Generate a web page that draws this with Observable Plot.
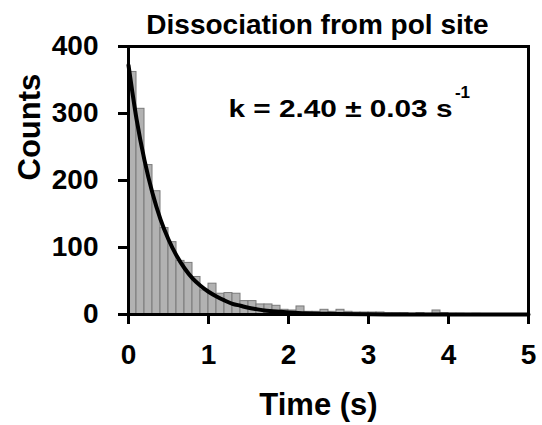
<!DOCTYPE html>
<html>
<head>
<meta charset="utf-8">
<script src="https://cdn.jsdelivr.net/npm/d3@7"></script>
<script src="https://cdn.jsdelivr.net/npm/@observablehq/plot@0.6"></script>
<style>
  html, body { margin: 0; padding: 0; background: white; }
  #chart svg { display: block; }
</style>
</head>
<body>
<div id="chart"></div>
<script>
// Histogram: 50 bins of 0.1 s from 0 to 5 s
const binWidth = 0.1;
const counts = [
  362, 307, 223, 184, 129, 108, 80, 77, 56, 36,
  46, 31, 32, 31, 20, 20, 15, 15, 13, 7,
  6, 12, 4, 4, 7, 4, 7, 4, 3, 3,
  3, 3, 2, 2, 2, 1, 2, 1, 6, 2,
  1, 1, 0, 1, 0, 0, 0, 0, 0, 0
];
// Fitted single-exponential curve
const fitTime  = [0, 0.1, 0.2, 0.3, 0.4, 0.5, 0.6, 0.7, 0.8, 0.9, 1.0, 1.1, 1.2, 1.3, 1.4, 1.5, 1.6, 1.7, 1.8, 1.9, 2.0, 2.5, 3.0, 3.5, 4.0, 4.5, 5.0];
const fitCount = [372, 292, 230, 181, 142, 112, 88, 69, 54, 43, 34, 27, 21, 16, 13, 10, 8, 6, 5, 4, 3, 1, 0.3, 0.1, 0, 0, 0];
const xTicks = [0, 1, 2, 3, 4, 5];
const yTicks = [0, 100, 200, 300, 400];
const titleText = "Dissociation from pol site";
const xLabel = "Time (s)";
const yLabel = "Counts";
const annotMain = "k = 2.40 ± 0.03 s";
const annotSup = "-1";

const bins = counts.map((c, i) => ({x1: i * binWidth, x2: (i + 1) * binWidth, count: c}));
const fit = fitTime.map((t, i) => ({t, v: fitCount[i]}));

const font = "'Liberation Sans', Arial, Helvetica, sans-serif";

const chart = Plot.plot({
  width: 542,
  height: 425,
  marginLeft: 128,
  marginRight: 14,
  marginTop: 46,
  marginBottom: 111,
  style: {fontFamily: font, background: "white", color: "black", overflow: "visible"},
  x: {domain: [0, 5]},
  y: {domain: [0, 400]},
  marks: [
    Plot.rectY(bins, {x1: "x1", x2: "x2", y: "count", fill: "#b2b2b2", stroke: "#7a7a7a", strokeWidth: 1, inset: 0}),
    Plot.line(fit, {x: "t", y: "v", curve: "monotone-x", stroke: "black", strokeWidth: 4}),
    Plot.frame({stroke: "black", strokeWidth: 3}),
    Plot.axisX({ticks: xTicks, tickFormat: d => String(d), tickSize: 10, tickPadding: 20, strokeWidth: 3, fontSize: 28, fontWeight: "bold", label: null}),
    Plot.axisY({ticks: yTicks, tickFormat: d => String(d), tickSize: 10, tickPadding: 20, strokeWidth: 3, fontSize: 28, fontWeight: "bold", label: null}),
    Plot.text([titleText], {frameAnchor: "top", lineAnchor: "bottom", dy: -13, dx: -11, fontSize: 28, fontWeight: "bold"}),
    Plot.text([xLabel], {frameAnchor: "bottom", lineAnchor: "bottom", dy: 100, dx: -10, fontSize: 31, fontWeight: "bold"}),
    Plot.text([yLabel], {frameAnchor: "left", rotate: -90, dx: -98, fontSize: 31, fontWeight: "bold"}),
    Plot.text([annotMain], {x: 1.25, y: 295, textAnchor: "start", lineAnchor: "bottom", fontSize: 24, fontWeight: "bold"}),
    Plot.text([annotSup], {x: 4.08, y: 323, textAnchor: "start", lineAnchor: "bottom", fontSize: 17, fontWeight: "bold"})
  ]
});

// Stretch the annotation to the width it has in the reference
d3.select(chart).selectAll("text").filter(function() { return this.textContent === annotMain; })
  .attr("textLength", 224).attr("lengthAdjust", "spacingAndGlyphs");

document.getElementById("chart").appendChild(chart);
</script>
</body>
</html>
